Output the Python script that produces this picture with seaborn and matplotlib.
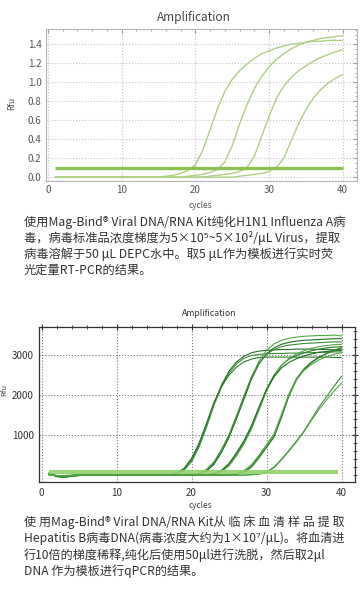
import matplotlib
matplotlib.use("Agg")
import matplotlib.pyplot as plt
import pandas as pd
import seaborn as sns
from matplotlib.ticker import MultipleLocator, FormatStrFormatter

# ---------------- data ----------------
cycles = list(range(1, 41))

# top panel: H1N1 dilution series (Rfu)
h1n1_1 = [0, 0, 0, 0, 0, 0, 0, 0, 0, 0,
          0, 0, 0, 0, 0, 0.01, 0.02, 0.04, 0.07, 0.13,
          0.28, 0.50, 0.72, 0.90, 1.03, 1.12, 1.19, 1.25, 1.30, 1.33,
          1.36, 1.38, 1.40, 1.41, 1.42, 1.43, 1.43, 1.44, 1.44, 1.44]
h1n1_2 = [0, 0, 0, 0, 0, 0, 0, 0, 0, 0,
          0, 0, 0, 0, 0, 0, 0, 0, 0.01, 0.02,
          0.03, 0.05, 0.08, 0.16, 0.33, 0.56, 0.76, 0.93, 1.06, 1.16,
          1.24, 1.30, 1.35, 1.39, 1.42, 1.44, 1.46, 1.47, 1.48, 1.49]
h1n1_3 = [0, 0, 0, 0, 0, 0, 0, 0, 0, 0,
          0, 0, 0, 0, 0, 0, 0, 0, 0, 0,
          0, 0.01, 0.02, 0.03, 0.04, 0.06, 0.10, 0.22, 0.43, 0.64,
          0.83, 0.96, 1.05, 1.12, 1.17, 1.22, 1.26, 1.29, 1.32, 1.34]
h1n1_4 = [0, 0, 0, 0, 0, 0, 0, 0, 0, 0,
          0, 0, 0, 0, 0, 0, 0, 0, 0, 0,
          0, 0, 0, 0, 0, 0.01, 0.02, 0.03, 0.04, 0.06,
          0.10, 0.20, 0.38, 0.56, 0.71, 0.83, 0.92, 0.99, 1.04, 1.08]
top_threshold = 0.1

# bottom panel: HBV 10-fold dilutions, replicates (Rfu)
a1 = [60, -40, -60, -30, -10, 0, 0, 0, 0, 0,
      0, 0, 0, 0, 0, 0, 10, 40, 150, 380,
      750, 1250, 1800, 2250, 2600, 2830, 2970, 3060, 3100, 3120,
      3130, 3140, 3140, 3150, 3150, 3150, 3140, 3140, 3130, 3130]
a2 = [30, -30, -50, -20, -10, 0, 0, 0, 0, 0,
      0, 0, 0, 0, 0, 0, 10, 30, 120, 330,
      700, 1200, 1750, 2200, 2550, 2780, 2920, 2990, 3020, 3030,
      3040, 3040, 3050, 3050, 3060, 3060, 3070, 3070, 3080, 3080]
a3 = [20, -20, -30, -10, 0, 0, 0, 0, 0, 0,
      0, 0, 0, 0, 0, 0, 15, 50, 170, 420,
      800, 1300, 1820, 2220, 2500, 2700, 2830, 2900, 2940, 2950,
      2950, 2950, 2950, 2950, 2950, 2950, 2950, 2950, 2940, 2940]
b1 = [50, -20, -40, -20, -10, 0, 0, 0, 0, 0,
      0, 0, 0, 0, 0, 0, 0, 0, 0, 10,
      30, 120, 300, 600, 980, 1460, 1950, 2450, 2850, 3120,
      3280, 3370, 3420, 3450, 3470, 3480, 3490, 3490, 3500, 3480]
b2 = [30, -20, -30, -10, 0, 0, 0, 0, 0, 0,
      0, 0, 0, 0, 0, 0, 0, 0, 0, 10,
      20, 100, 270, 570, 940, 1410, 1900, 2400, 2780, 3030,
      3180, 3270, 3320, 3350, 3370, 3380, 3390, 3400, 3410, 3410]
b3 = [10, -10, -20, -10, 0, 0, 0, 0, 0, 0,
      0, 0, 0, 0, 0, 0, 0, 0, 0, 10,
      40, 140, 330, 640, 1010, 1480, 1980, 2450, 2800, 3020,
      3140, 3210, 3250, 3270, 3290, 3300, 3310, 3320, 3330, 3330]
c1 = [40, -30, -40, -20, -10, 0, 0, 0, 0, 0,
      0, 0, 0, 0, 0, 0, 0, 0, 0, 0,
      0, 10, 30, 100, 260, 520, 820, 1200, 1680, 2150,
      2500, 2750, 2900, 2990, 3060, 3110, 3150, 3180, 3200, 3210]
c2 = [20, -20, -30, -10, 0, 0, 0, 0, 0, 0,
      0, 0, 0, 0, 0, 0, 0, 0, 0, 0,
      0, 10, 20, 80, 230, 480, 780, 1150, 1620, 2100,
      2470, 2740, 2920, 3030, 3110, 3170, 3210, 3240, 3260, 3270]
c3 = [0, -10, -20, -10, 0, 0, 0, 0, 0, 0,
      0, 0, 0, 0, 0, 0, 0, 0, 0, 0,
      0, 10, 40, 120, 290, 560, 860, 1240, 1700, 2140,
      2460, 2680, 2820, 2910, 2980, 3030, 3070, 3090, 3110, 3120]
d1 = [40, -30, -40, -20, 0, 0, 0, 0, 0, 0,
      0, 0, 0, 0, 0, 0, 0, 0, 0, 0,
      0, 0, 0, 0, 10, 30, 90, 230, 470, 720,
      980, 1480, 2020, 2420, 2660, 2830, 2950, 3040, 3110, 3160]
d2 = [20, -20, -30, -10, 0, 0, 0, 0, 0, 0,
      0, 0, 0, 0, 0, 0, 0, 0, 0, 0,
      0, 0, 0, 0, 10, 20, 70, 200, 430, 690,
      950, 1440, 1980, 2380, 2630, 2810, 2940, 3040, 3120, 3190]
d3 = [0, -10, -10, 0, 0, 0, 0, 0, 0, 0,
      0, 0, 0, 0, 0, 0, 0, 0, 0, 0,
      0, 0, 0, 0, 10, 40, 110, 260, 500, 760,
      1030, 1520, 2030, 2400, 2620, 2770, 2880, 2960, 3020, 3060]
e1 = [30, -20, -30, -10, 0, 0, 0, 0, 0, 0,
      0, 0, 0, 0, 0, 0, 0, 0, 0, 0,
      0, 0, 0, 0, 0, 0, 0, 10, 30, 80,
      200, 400, 620, 850, 1100, 1400, 1700, 1960, 2220, 2470]
e2 = [10, -10, -20, -10, 0, 0, 0, 0, 0, 0,
      0, 0, 0, 0, 0, 0, 0, 0, 0, 0,
      0, 0, 0, 0, 0, 0, 0, 10, 20, 70,
      180, 380, 600, 830, 1080, 1370, 1640, 1880, 2100, 2300]
bottom_threshold = 80

top_caption = ["使用Mag-Bind® Viral DNA/RNA Kit纯化H1N1 Influenza A病",
               "毒，病毒标准品浓度梯度为5×10⁵~5×10²/μL Virus，提取",
               "病毒溶解于50 μL DEPC水中。取5 μL作为模板进行实时荧",
               "光定量RT-PCR的结果。"]
bottom_caption = ["使 用Mag-Bind® Viral DNA/RNA Kit从 临 床 血 清 样 品 提 取",
                  "Hepatitis B病毒DNA(病毒浓度大约为1×10⁷/μL)。将血清进",
                  "行10倍的梯度稀释,纯化后使用50μl进行洗脱，然后取2μl",
                  "DNA 作为模板进行qPCR的结果。"]

# long-form tables
top_wells = {"1": h1n1_1, "2": h1n1_2, "3": h1n1_3, "4": h1n1_4}
df_top = pd.concat([pd.DataFrame({"cycle": cycles, "rfu": v, "well": k})
                    for k, v in top_wells.items()])
bot_wells = {"a1": a1, "a2": a2, "a3": a3, "b1": b1, "b2": b2, "b3": b3,
             "c1": c1, "c2": c2, "c3": c3, "d1": d1, "d2": d2, "d3": d3,
             "e1": e1, "e2": e2}
df_bot = pd.concat([pd.DataFrame({"cycle": cycles, "rfu": v, "well": k})
                    for k, v in bot_wells.items()])

# ---------------- style ----------------
sns.set_style("white")
plt.rcParams['font.family'] = ['Noto Sans CJK SC', 'DejaVu Sans']
plt.rcParams['axes.unicode_minus'] = False

W, H = 364, 594
fig = plt.figure(figsize=(W / 100, H / 100), dpi=100)
fig.patch.set_facecolor("white")

# ---------------- top chart ----------------
ax1 = fig.add_axes([45.7 / W, 1 - 181 / H, 311 / W, 152 / H])
sns.lineplot(data=df_top, x="cycle", y="rfu", hue="well",
             palette=["#aed083"] * 4, legend=False, lw=1.0, ax=ax1, zorder=2)
ax1.hlines(top_threshold, cycles[0], cycles[-1], color="#8cc152", lw=2.4, zorder=3)
ax1.set_xlim(-0.3, 41.9)
ax1.set_ylim(-0.04, 1.56)
ax1.xaxis.set_major_locator(MultipleLocator(10))
ax1.xaxis.set_minor_locator(MultipleLocator(2))
ax1.yaxis.set_major_locator(MultipleLocator(0.2))
ax1.yaxis.set_minor_locator(MultipleLocator(0.05))
ax1.yaxis.set_major_formatter(FormatStrFormatter("%.1f"))
ax1.grid(which="major", color="#c4c4c4", ls=":", lw=0.8)
ax1.tick_params(which="both", direction="in", top=True, right=True,
                colors="#a0a0a0", labelcolor="#555555", labelsize=7, pad=3)
ax1.tick_params(which="major", length=3)
ax1.tick_params(which="minor", length=1.5)
ax1.set_xlabel("")
ax1.set_ylabel("")
for s in ax1.spines.values():
    s.set_color("#b5b5b5")
    s.set_linewidth(0.8)
fig.text(194 / W, 1 - 17 / H, "Amplification", ha="center", va="center",
         fontsize=8.5, color="#444444")
fig.text(12 / W, 1 - 103 / H, "Rfu", ha="center", va="center", rotation=90,
         fontsize=6, color="#555555")
fig.text(200 / W, 1 - 205 / H, "cycles", ha="center", va="center",
         fontsize=6, color="#555555")

# ---------------- bottom chart ----------------
ax2 = fig.add_axes([39.3 / W, 1 - 482.3 / H, 315.7 / W, 155.6 / H])
bot_colors = ["#1f6e22", "#3a8f36", "#2a7d2b", "#55a848", "#1f6e22", "#3a8f36",
              "#2a7d2b", "#55a848", "#1f6e22", "#3a8f36", "#2a7d2b", "#55a848",
              "#3a8f36", "#55a848"]
sns.lineplot(data=df_bot, x="cycle", y="rfu", hue="well", palette=bot_colors,
             legend=False, lw=0.8, ax=ax2, zorder=2)
ax2.hlines(bottom_threshold, cycles[0], cycles[-2] + 0.5, color="#8fd36a",
           lw=3.0, alpha=0.9, zorder=3)
ax2.set_xlim(-0.3, 41.8)
ax2.set_ylim(-180, 3710)
ax2.xaxis.set_major_locator(MultipleLocator(10))
ax2.xaxis.set_minor_locator(MultipleLocator(2))
ax2.yaxis.set_major_locator(MultipleLocator(1000))
ax2.yaxis.set_minor_locator(MultipleLocator(200))
ax2.set_yticks([1000, 2000, 3000])
ax2.grid(which="major", color="#777777", ls=":", lw=0.8)
ax2.tick_params(which="both", direction="inout", top=True, right=True,
                colors="#333333", labelcolor="#333333", labelsize=7, pad=2)
ax2.tick_params(which="major", length=4)
ax2.tick_params(which="minor", length=2.5)
ax2.set_xlabel("")
ax2.set_ylabel("")
for s in ax2.spines.values():
    s.set_color("#333333")
    s.set_linewidth(0.9)
fig.text(209 / W, 1 - 313.3 / H, "Amplification", ha="center", va="center",
         fontsize=6.3, color="#333333")
fig.text(4.5 / W, 1 - 390 / H, "Rfu", ha="center", va="center", rotation=90,
         fontsize=5.5, color="#444444")
fig.text(200 / W, 1 - 505.7 / H, "cycles", ha="center", va="center",
         fontsize=6, color="#444444")

# ---------------- captions ----------------
for i, line in enumerate(top_caption):
    fig.text(24 / W, 1 - (222.3 + 16 * i) / H, line, ha="left", va="center",
             fontsize=8.8, color="#333333")
for i, line in enumerate(bottom_caption):
    fig.text(24 / W, 1 - (522.5 + 16.2 * i) / H, line, ha="left", va="center",
             fontsize=8.7, color="#333333")

fig.savefig("out.png", dpi=100, facecolor="white")
